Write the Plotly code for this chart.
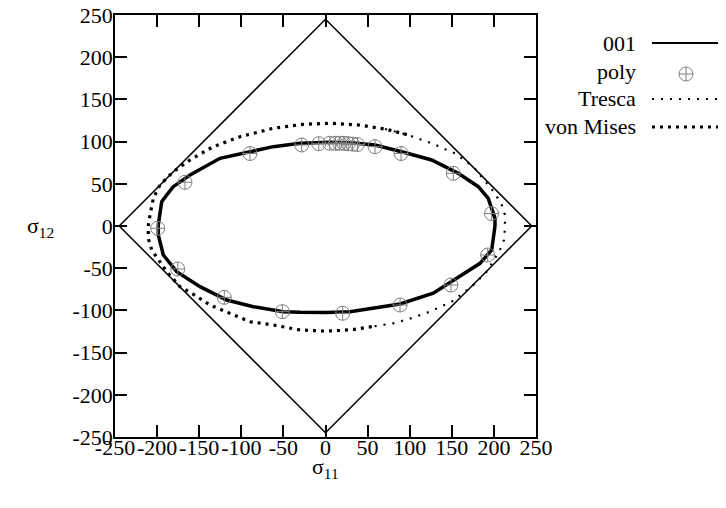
import plotly.graph_objects as go

# ---- data ----
ticks = [-250, -200, -150, -100, -50, 0, 50, 100, 150, 200, 250]
tick_labels = ["-250", "-200", "-150", "-100", "-50", "0", "50", "100", "150", "200", "250"]

# single crystal 001 (diamond)
c001_x = [245, 0, -245, 0, 245]
c001_y = [0, 245, 0, -245, 0]

# thick fitted curve through poly results
fit_x = [201.3, 201.3, 193.3, 181.5, 157.7, 126.1, 90.5, 58.8, 30.0, 5.3, -30.3, -62.0, -89.7,
         -125.3, -160.9, -180.8, -188.6, -194.5, -196.0, -198.6, -198.6, -192.6, -176.7, -149.0,
         -117.3, -85.7, -50.1, -30.3, 1.0, 29.1, 88.5, 128.0, 155.8, 183.5, 197.4, 201.3]
fit_y = [0.0, 9.1, 32.8, 46.6, 62.4, 78.2, 88.0, 96.0, 98.5, 99.2, 98.0, 94.0, 88.0,
         80.2, 60.4, 46.6, 36.7, 28.8, 19.0, 1.2, -10.7, -34.4, -54.1, -71.9,
         -87.7, -95.6, -101.5, -102.3, -102.5, -101.5, -92.4, -79.7, -62.0, -44.2, -28.4, 0.0]

# polycrystal results
poly_x = [-199.3, -166.9, -89.7, -28.3, -8.0, 5.0, 12.0, 17.0, 22.0, 27.0, 32.0, 38.0, 58.8,
          89.7, 151.8, 197.1, 192.6, 149.0, 88.5, 20.4, -51.3, -120.2, -175.5]
poly_y = [-2.7, 51.8, 85.9, 96.0, 97.5, 98.0, 98.0, 98.0, 98.0, 97.5, 97.0, 96.5, 94.0,
          85.9, 62.4, 14.8, -34.4, -69.9, -93.6, -103.4, -101.5, -84.5, -50.9]

# Tresca
tresca_x = [70.7, 98.3, 126.1, 153.8, 175.5, 201.3, 209.3, 213.2, 213.2, 212.0, 207.2,
            191.4, 173.6, 149.9, 124.1, 98.3, 80.5, 54.9]
tresca_y = [114.9, 107.8, 98.0, 86.1, 70.3, 38.7, 24.9, 13.0, -1.5, -16.6, -28.4,
            -54.1, -71.9, -89.7, -101.5, -110.5, -115.3, -119.3]

# von Mises
vm_x = [54.9, 35.0, 13.3, -2.6, -30.3, -62.0, -89.7, -109.5, -137.2, -158.9, -172.8, -188.6,
        -198.6, -206.4, -210.5, -210.5, -208.4, -204.5, -196.6, -180.8, -160.9, -133.3,
        -101.5, -62.0, -26.4, 5.3, 39.0, 70.7, 98.3]
vm_y = [-119.3, -122.4, -124.1, -124.4, -123.2, -117.3, -113.4, -105.5, -93.6, -79.7, -71.9, -54.1,
        -40.3, -28.4, -14.6, 0.0, 13.0, 32.8, 48.6, 64.3, 78.2, 94.0,
        105.8, 115.8, 120.5, 121.7, 119.7, 114.9, 107.8]

legend_labels = ["001", "poly", "Tresca", "von Mises"]

FONT = "Liberation Serif"
FS = 22

fig = go.Figure()
fig.add_trace(go.Scatter(x=c001_x, y=c001_y, mode="lines",
                         line=dict(color="black", width=1.5), name="001"))
fig.add_trace(go.Scatter(x=vm_x, y=vm_y, mode="lines",
                         line=dict(color="black", width=3.2, dash="3px,5px"), name="von Mises"))
fig.add_trace(go.Scatter(x=tresca_x, y=tresca_y, mode="lines",
                         line=dict(color="black", width=2.2, dash="2px,7px"), name="Tresca"))
fig.add_trace(go.Scatter(x=fit_x, y=fit_y, mode="lines",
                         line=dict(color="black", width=3.5), name="fit"))
fig.add_trace(go.Scatter(x=poly_x, y=poly_y, mode="markers",
                         marker=dict(symbol="circle-cross-open", size=14, color="#7f7f7f",
                                     line=dict(width=1, color="#7f7f7f")), name="poly"))

# page offset (browser body margin) and plot area in screen pixels
OFF = 8
W, H = 726, 508
L, R, T, B = 115 - OFF, 536 - OFF, 15 - OFF, 437 - OFF


def px(xs):
    return (xs - OFF - L) / (R - L)


def py(ys):
    return (B - (ys - OFF)) / (B - T)


axis_common = dict(range=[-250, 250], tickvals=ticks, ticktext=tick_labels, ticks="inside",
                   ticklen=12, tickwidth=1.5, tickangle=0, automargin=False,
                   tickcolor="black", showline=True, linecolor="black", linewidth=1.5,
                   mirror="allticks", showgrid=False, zeroline=False,
                   tickfont=dict(family=FONT, size=FS, color="black"))

fig.update_layout(
    width=W, height=H,
    margin=dict(l=L, r=W - R, t=T, b=H - B),
    paper_bgcolor="white", plot_bgcolor="white",
    showlegend=False,
    xaxis=dict(**axis_common, ticklabelstandoff=-10),
    yaxis=dict(**axis_common, ticklabelstandoff=-4),
)

# axis titles
fig.add_annotation(x=px(325), y=py(468), xref="paper", yref="paper", text="σ<sub>11</sub>",
                   showarrow=False, xanchor="center", yanchor="middle",
                   font=dict(family=FONT, size=FS, color="black"))
fig.add_annotation(x=px(40), y=py(227), xref="paper", yref="paper", text="σ<sub>12</sub>",
                   showarrow=False, xanchor="center", yanchor="middle",
                   font=dict(family=FONT, size=FS, color="black"))

# manual legend (text left, sample right)
rows = [43, 71, 99, 127]
for lab, yy in zip(legend_labels, rows):
    fig.add_annotation(x=px(638), y=py(yy), xref="paper", yref="paper", text=lab,
                       showarrow=False, xanchor="right", yanchor="middle",
                       font=dict(family=FONT, size=FS, color="black"))

x0s, x1s = px(652), px(721)
fig.add_shape(type="line", xref="paper", yref="paper", x0=x0s, x1=x1s, y0=py(rows[0]), y1=py(rows[0]),
              line=dict(color="black", width=2))
# poly marker sample
cx, cy, r = 686, rows[1] + 3, 7
fig.add_shape(type="circle", xref="paper", yref="paper", x0=px(cx - r), x1=px(cx + r),
              y0=py(cy + r), y1=py(cy - r), line=dict(color="#7f7f7f", width=1))
fig.add_shape(type="line", xref="paper", yref="paper", x0=px(cx - r), x1=px(cx + r),
              y0=py(cy), y1=py(cy), line=dict(color="#7f7f7f", width=1))
fig.add_shape(type="line", xref="paper", yref="paper", x0=px(cx), x1=px(cx),
              y0=py(cy - r), y1=py(cy + r), line=dict(color="#7f7f7f", width=1))
fig.add_shape(type="line", xref="paper", yref="paper", x0=x0s, x1=x1s, y0=py(rows[2]), y1=py(rows[2]),
              line=dict(color="black", width=2.2, dash="2px,7px"))
fig.add_shape(type="line", xref="paper", yref="paper", x0=x0s, x1=x1s, y0=py(rows[3]), y1=py(rows[3]),
              line=dict(color="black", width=3.2, dash="3px,5px"))

fig.write_html("out.html")
